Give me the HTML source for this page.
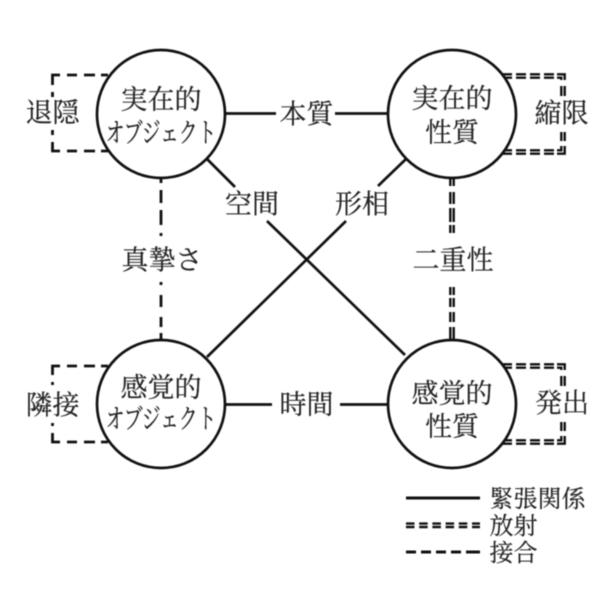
<!DOCTYPE html>
<html><head><meta charset="utf-8"><style>
html,body{margin:0;padding:0;background:#fff}
svg{display:block;filter:blur(.4px)}
text{font-family:"Liberation Serif","Noto Serif CJK SC","Noto Serif CJK JP",serif;font-size:27px;fill:#222;stroke:#222;stroke-width:.2;text-anchor:middle}
</style></head><body>
<svg width="611" height="610" viewBox="0 0 611 610" xmlns="http://www.w3.org/2000/svg">
<g fill="none" stroke="#111" stroke-width="2.7">
<path d="M225 113.5H276M335 113.5H388M225 404.5H272M340 404.5H388"/>
<path d="M207 159L235 187M267 221L405 355M406 159L378 186M346 221L207 357"/>
<path d="M406 498H480" stroke-width="3"/>
<path d="M161 178V183M161 190V203M161 210V225M161 233V236M161 282V285M161 295V307M161 317V327M161 333V340" stroke-width="2.8"/>
<path d="M108 75H101M95 75H84M77 75H67M60 75H52.5V85M52.5 92V97M108 151H101M95 151H84M77 151H67M60 151H52.5V142M52.5 135V130" stroke-width="2.8"/>
<path d="M108 366H101M95 366H84M77 366H67M60 366H52.5V375M52.5 382V385M108 442H101M95 442H84M77 442H67M60 442H52.5V433M52.5 426V423" stroke-width="2.8"/>
<path d="M406 552H416M421 552H431M436 552H446M451 552H461M466 552H480" stroke-width="3"/>
</g>
<g fill="none" stroke="#111" stroke-width="2.4">
<path d="M450.3 178V186M453.7 178V186M450.3 192V204M453.7 192V204M450.3 208V222M453.7 208V222M450.3 225V233M453.7 225V233"/>
<path d="M450.3 287V295M453.7 287V295M450.3 298V307M453.7 298V307M450.3 312V322M453.7 312V322M450.3 327V340M453.7 327V340"/>
<g>
<path d="M503 74.3H512M516 74.3H526M530 74.3H540M544 74.3H554M557 74.3H564.7V80M503 77.7H512M516 77.7H526M530 77.7H540M544 77.7H554M557 77.7H561.3V80"/>
<path d="M561.3 86V96M564.7 86V96"/>
<path d="M503 150.3H512M516 150.3H526M530 150.3H540M544 150.3H554M557 150.3H561.3V146M503 153.7H512M516 153.7H526M530 153.7H540M544 153.7H554M557 153.7H564.7V146"/>
<path d="M561.3 132V141M564.7 132V141"/>
</g>
<g transform="translate(0 290)">
<path d="M503 74.3H512M516 74.3H526M530 74.3H540M544 74.3H554M557 74.3H564.7V80M503 77.7H512M516 77.7H526M530 77.7H540M544 77.7H554M557 77.7H561.3V80"/>
<path d="M561.3 86V96M564.7 86V96"/>
<path d="M503 150.3H512M516 150.3H526M530 150.3H540M544 150.3H554M557 150.3H561.3V146M503 153.7H512M516 153.7H526M530 153.7H540M544 153.7H554M557 153.7H564.7V146"/>
<path d="M561.3 132V141M564.7 132V141"/>
</g>
<path d="M406 523.6H480M406 527H480" stroke-dasharray="8.5 4.7"/>
</g>
<g fill="#fff" stroke="#111" stroke-width="2.7">
<circle cx="161" cy="114" r="64"/>
<circle cx="452" cy="114" r="64"/>
<circle cx="161" cy="404" r="64"/>
<circle cx="452" cy="404" r="64"/>
</g>
<text x="161" y="109">実在的</text>
<text transform="translate(161 142) scale(.72 1.05)" style="font-size:26px">オブジェクト</text>
<text x="452" y="108">実在的</text>
<text x="452" y="142">性質</text>
<text x="161" y="397">感覚的</text>
<text transform="translate(161 428) scale(.72 1.05)" style="font-size:26px">オブジェクト</text>
<text x="452" y="403">感覚的</text>
<text x="452" y="436">性質</text>
<text x="306.5" y="123.5">本質</text>
<text x="306.5" y="414">時間</text>
<text x="252" y="213.5">空間</text>
<text x="362" y="213.5">形相</text>
<text x="162" y="269.5">真摯さ</text>
<text x="453" y="269.5">二重性</text>
<text x="52.5" y="122">退隠</text>
<text x="561.5" y="122.5">縮限</text>
<text x="52.5" y="414.5">隣接</text>
<text x="562" y="412.5">発出</text>
<text x="537.5" y="507" style="font-size:24px">緊張関係</text>
<text x="513.5" y="534" style="font-size:24px">放射</text>
<text x="513.5" y="561" style="font-size:24px">接合</text>
</svg>
</body></html>
